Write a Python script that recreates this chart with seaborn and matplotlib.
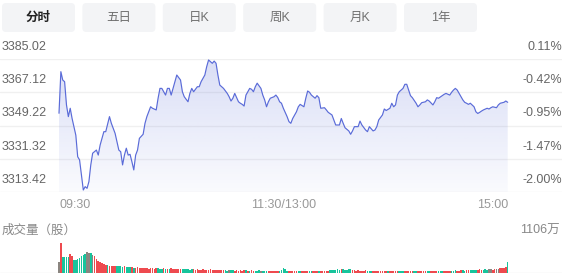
import numpy as np
import pandas as pd
import matplotlib
matplotlib.use("Agg")
import matplotlib.pyplot as plt
import matplotlib.transforms as mtrans
from matplotlib.patches import FancyBboxPatch
import seaborn as sns

# ---------------- data ----------------
tab_labels = ["分时", "五日", "日K", "周K", "月K", "1年"]
price_ticks = [3385.02, 3367.12, 3349.22, 3331.32, 3313.42]
pct_ticks = ["0.11%", "-0.42%", "-0.95%", "-1.47%", "-2.00%"]
time_ticks = [0, 120, 240]
time_labels = ["09:30", "11:30/13:00", "15:00"]
vol_title = "成交量（股）"
vol_max_label = "1106万"
vol_max = 1106

minutes = [0, 1, 2, 3, 4, 5, 6, 7, 9, 10, 11, 12, 13, 14, 15, 16, 17, 18, 20, 21,
           22, 23, 24, 25, 27, 28, 30, 31, 32, 33, 34, 35, 36, 37, 38, 39, 40, 41, 42, 43,
           45, 46, 47, 49, 50, 52, 53, 54, 55, 57, 58, 59, 60, 62, 63, 65, 66, 67, 69, 70,
           71, 72, 74, 75, 76, 78, 79, 80, 82, 83, 84, 85, 86, 87, 88, 90, 91, 92, 93, 94,
           96, 97, 98, 99, 100, 102, 103, 104, 105, 106, 108, 109, 110, 111, 112, 113, 115, 116, 117, 118,
           119, 120, 122, 123, 124, 125, 127, 128, 129, 131, 132, 133, 134, 135, 137, 138, 139, 140, 142, 143,
           144, 146, 147, 148, 150, 151, 152, 153, 155, 156, 157, 158, 160, 161, 162, 164, 165, 166, 168, 169,
           170, 171, 173, 174, 175, 177, 178, 179, 180, 181, 182, 184, 185, 186, 187, 188, 189, 191, 192, 193,
           194, 196, 197, 198, 200, 201, 202, 203, 205, 206, 207, 209, 210, 211, 212, 213, 215, 216, 217, 218,
           219, 220, 222, 223, 224, 225, 226, 227, 229, 230, 231, 232, 234, 235, 236, 238, 239, 240]
prices = [3355.8, 3378.2, 3373.7, 3372.8, 3360.3, 3354.0, 3358.5, 3353.0, 3344.0, 3332.4,
          3330.7, 3322.6, 3314.5, 3316.3, 3315.4, 3319.0, 3328.0, 3334.3, 3336.0, 3333.3,
          3338.7, 3342.3, 3345.9, 3345.9, 3354.0, 3350.4, 3345.0, 3340.5, 3336.0, 3335.1,
          3328.0, 3333.3, 3337.0, 3333.3, 3333.7, 3329.7, 3325.3, 3333.3, 3336.0, 3342.3,
          3344.5, 3350.4, 3354.0, 3359.3, 3358.5, 3357.6, 3363.9, 3369.2, 3369.2, 3365.6,
          3369.2, 3369.2, 3365.6, 3372.8, 3376.4, 3373.7, 3367.4, 3364.7, 3362.0, 3366.5,
          3369.2, 3367.4, 3370.1, 3370.1, 3372.8, 3376.4, 3380.9, 3384.5, 3382.7, 3383.9,
          3382.7, 3376.4, 3371.0, 3370.1, 3369.2, 3366.5, 3364.7, 3362.4, 3363.9, 3366.5,
          3362.0, 3361.2, 3360.6, 3359.7, 3365.6, 3369.2, 3368.7, 3367.4, 3370.1, 3372.0,
          3369.2, 3365.6, 3363.0, 3359.3, 3362.0, 3363.9, 3364.7, 3365.6, 3364.3, 3362.0,
          3361.2, 3358.5, 3354.0, 3351.3, 3350.4, 3353.0, 3356.6, 3359.3, 3360.6, 3359.3,
          3363.9, 3367.8, 3367.1, 3365.6, 3363.9, 3365.3, 3364.2, 3358.5, 3358.8, 3357.6,
          3356.3, 3354.9, 3352.2, 3349.5, 3349.5, 3353.0, 3350.4, 3348.0, 3346.3, 3344.5,
          3346.3, 3348.6, 3348.6, 3351.6, 3349.5, 3346.8, 3345.9, 3348.6, 3346.3, 3346.8,
          3348.6, 3352.2, 3354.9, 3358.1, 3357.3, 3358.5, 3361.2, 3359.3, 3360.3, 3365.6,
          3367.4, 3369.2, 3371.4, 3371.4, 3368.3, 3365.3, 3364.2, 3361.2, 3359.3, 3360.3,
          3361.5, 3362.0, 3363.0, 3362.4, 3360.3, 3362.0, 3364.2, 3363.9, 3365.3, 3366.0,
          3366.5, 3365.6, 3367.1, 3368.3, 3369.2, 3368.3, 3364.7, 3363.0, 3361.7, 3361.2,
          3360.6, 3361.2, 3359.3, 3356.6, 3355.7, 3356.3, 3357.0, 3357.6, 3358.5, 3358.1,
          3358.8, 3359.3, 3358.8, 3360.3, 3361.2, 3361.7, 3362.4, 3361.7]

# volume per minute (万股)
volumes = [395, 1106, 600, 590, 585, 600, 690, 640, 480, 480, 520, 565, 640, 665, 690, 763, 737, 725, 660, 640,
           516, 442, 393, 356, 320, 295, 280, 270, 265, 255, 260, 250, 245, 240, 235, 250, 230, 220, 210, 230,
           200, 190, 210, 185, 180, 175, 190, 170, 165, 180, 175, 160, 170, 180, 165, 150, 175, 160, 155, 150,
           170, 145, 160, 140, 150, 135, 160, 140, 130, 145, 125, 140, 130, 120, 135, 125, 115, 130, 120, 110,
           125, 140, 110, 100, 115, 105, 120, 100, 95, 110, 90, 100, 115, 95, 85, 100, 90, 105, 85, 95,
           100, 85, 80, 95, 85, 90, 80, 95, 75, 85, 80, 90, 75, 80, 70, 85, 75, 80, 90, 110,
           195, 130, 90, 80, 75, 70, 80, 75, 70, 85, 70, 75, 65, 80, 70, 75, 85, 70, 80, 75,
           80, 70, 90, 85, 75, 110, 95, 100, 120, 130, 115, 140, 160, 125, 120, 150, 135, 125, 95, 90,
           100, 85, 80, 90, 95, 85, 90, 80, 85, 75, 70, 80, 90, 70, 75, 80, 70, 65, 75, 70,
           80, 70, 65, 75, 70, 80, 65, 70, 75, 65, 70, 60, 75, 70, 65, 75, 80, 70, 65, 75,
           70, 80, 75, 70, 85, 75, 80, 70, 75, 85, 80, 90, 95, 85, 90, 100, 95, 90, 100, 95,
           100, 110, 120, 125, 115, 130, 125, 120, 130, 125, 135, 130, 120, 150, 140, 160, 180, 170, 200, 220,
           395]
# r = up, g = down, n = flat
directions = ("nrggggrrgggggggnngnr"
              "rrrrrrgrrrrggggrgggr"
              "grrrrrrrrrrrrgggrgrg"
              "rrrrrrggggggrrrrrrrr"
              "rrrrrrrrrggnggrrrrrr"
              "grgrrgggngggrrrrrrgg"
              "gggrrrrrggrrrrggrrrg"
              "rrrrrggggggrgggggrrr"
              "rrrrrgggrrrrrrrrgrrr"
              "rrgggrrrrrggrrrrrggr"
              "rrrgggrrrrgggrrrggrr"
              "ggggrrrgggnnrrnnrrrr"
              "g")

# ---------------- style ----------------
sns.set_theme(style="white")
plt.rcParams['font.family'] = ['Liberation Sans', 'Noto Sans CJK SC', 'DejaVu Sans']

W, H = 572, 276
LINE = '#5a6bd8'
GRID = '#f0f0f0'
LABEL = '#666666'
TICK = '#999999'
palette = {'r': '#ee4a4f', 'g': '#17c49c', 'n': '#8a8580'}
FS = 9

fig = plt.figure(figsize=(W / 100, H / 100), dpi=100)
fig.patch.set_facecolor('white')

# pixel geometry
x0_px, x1_px = 59.0, 507.7          # minute 0 and minute 240
ppm = (x1_px - x0_px) / 240.0
ax_right_px = 562.0
xlim = ((0 - x0_px) / ppm, (ax_right_px - x0_px) / ppm)
p_top, p_bot = 59.0, 192.0
v_top, v_bot = 243.0, 273.0

# ---------------- tabs (overlay axes in pixel units) ----------------
ov = fig.add_axes([0, 0, 1, 1], zorder=0)
ov.set_xlim(0, W)
ov.set_ylim(H, 0)
ov.axis('off')
for i, lab in enumerate(tab_labels):
    left = 2 + i * 80.4
    ov.add_patch(FancyBboxPatch((left, 3), 73, 29,
                                boxstyle="round,pad=0,rounding_size=4",
                                facecolor='#f3f4f6', edgecolor='none'))
    ov.text(left + 36.5, 17.5, lab, ha='center', va='center', fontsize=FS,
            color='#222222' if i == 0 else '#707070',
            fontweight='bold' if i == 0 else 'normal')

# ---------------- price axes ----------------
ax = fig.add_axes([0, 1 - p_bot / H, ax_right_px / W, (p_bot - p_top) / H], zorder=2)
ax.set_facecolor('none')
ax.axis('off')

for v in price_ticks:
    ax.axhline(v, color=GRID, lw=1.0, zorder=0.5)

sns.lineplot(x=minutes, y=prices, ax=ax, color=LINE, linewidth=0.85, zorder=3,
             estimator=None, sort=True)

poly = ax.fill_between(minutes, prices, price_ticks[-1], color='none', linewidth=0)
grad = np.linspace(1, 0, 256)[:, None]
rgba = np.zeros((256, 1, 4))
rgba[..., 0] = 84 / 255
rgba[..., 1] = 104 / 255
rgba[..., 2] = 214 / 255
rgba[..., 3] = 0.03 + 0.19 * grad
im = ax.imshow(rgba, extent=[0, 240, price_ticks[-1], price_ticks[0]],
               aspect='auto', origin='upper', zorder=1, interpolation='bilinear')
im.set_clip_path(poly.get_paths()[0], transform=ax.transData)

ax.set_xlim(*xlim)
ax.set_ylim(price_ticks[-1], price_ticks[0])

yblend = mtrans.blended_transform_factory(ax.transAxes, ax.transData)
for v, pct in zip(price_ticks, pct_ticks):
    ax.annotate(f"{v:.2f}", xy=(0, v), xycoords=yblend, xytext=(2, 12),
                textcoords='offset pixels', ha='left', va='center',
                fontsize=FS, color=LABEL)
    ax.annotate(pct, xy=(1, v), xycoords=yblend, xytext=(0, 12),
                textcoords='offset pixels', ha='right', va='center',
                fontsize=FS, color=LABEL)

xblend = mtrans.blended_transform_factory(ax.transData, ax.transAxes)
aligns = ['left', 'center', 'right']
for t, lab, ha in zip(time_ticks, time_labels, aligns):
    ax.annotate(lab, xy=(t, 0), xycoords=xblend, xytext=(1 if ha == 'right' else 0, -13),
                textcoords='offset pixels', ha=ha, va='center',
                fontsize=FS, color=TICK)

# ---------------- volume axes ----------------
axv = fig.add_axes([0, 1 - v_bot / H, ax_right_px / W, (v_bot - v_top) / H], zorder=2)
axv.set_facecolor('none')
axv.axis('off')
axv.axhline(0, color='#eeeeee', lw=1.0, zorder=0.5)

df_vol = pd.DataFrame({'minute': np.arange(len(volumes)), 'vol': volumes,
                       'dir': list(directions)})
sns.barplot(data=df_vol, x='minute', y='vol', hue='dir', palette=palette,
            native_scale=True, dodge=False, width=0.85, legend=False,
            errorbar=None, saturation=1, linewidth=0, ax=axv)
axv.set_xlim(*xlim)
axv.set_ylim(0, vol_max)
axv.axis('off')

vblend = mtrans.blended_transform_factory(axv.transAxes, axv.transAxes)
axv.annotate(vol_title, xy=(0, 1), xycoords=vblend, xytext=(2, 12),
             textcoords='offset pixels', ha='left', va='center',
             fontsize=FS, color='#888888')
axv.annotate(vol_max_label, xy=(1, 1), xycoords=vblend, xytext=(-2, 12),
             textcoords='offset pixels', ha='right', va='center',
             fontsize=FS, color='#888888')

fig.savefig('out.png', dpi=100, facecolor='white')
